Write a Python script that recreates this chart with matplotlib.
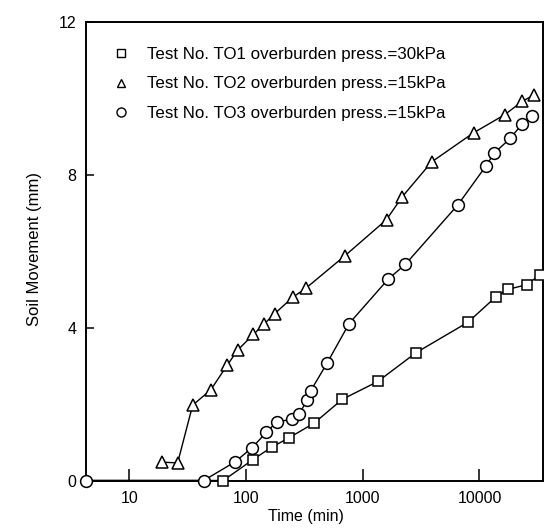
import matplotlib
matplotlib.use("Agg")
import matplotlib.pyplot as plt
from matplotlib.lines import Line2D
from matplotlib.ticker import FixedLocator, FixedFormatter, NullLocator

plt.rcParams['font.family'] = ['Liberation Sans', 'DejaVu Sans']

# ---- data ----
to1_time = [4.27, 64, 114, 166, 235, 384, 667, 1350, 2860, 8000, 13800, 17650, 25500, 32700]
to1_move = [0, 0, 0.54, 0.87, 1.12, 1.50, 2.12, 2.59, 3.34, 4.14, 4.80, 5.00, 5.12, 5.37]

to2_time = [19, 26, 35, 50, 69, 85, 116, 143, 176, 252, 330, 707, 1600, 2170, 3900, 8900, 16400, 23200, 29200]
to2_move = [0.48, 0.46, 1.97, 2.37, 3.01, 3.41, 3.82, 4.09, 4.36, 4.79, 5.04, 5.88, 6.82, 7.41, 8.33, 9.09, 9.56, 9.91, 10.08]

to3_time = [4.27, 43.5, 81, 113, 150, 183, 246, 286, 334, 358, 498, 764, 1660, 2320, 6550, 11350, 13280, 18450, 23000, 28400]
to3_move = [0, 0, 0.49, 0.86, 1.26, 1.53, 1.60, 1.74, 2.10, 2.34, 3.08, 4.10, 5.27, 5.65, 7.21, 8.22, 8.55, 8.95, 9.31, 9.52]

labels = ["Test No. TO1 overburden press.=30kPa",
          "Test No. TO2 overburden press.=15kPa",
          "Test No. TO3 overburden press.=15kPa"]

x_ticks = [10, 100, 1000, 10000]
x_ticklabels = ["10", "100", "1000", "10000"]
y_ticks = [0, 4, 8, 12]

# ---- figure ----
fig = plt.figure(figsize=(5.44, 5.31), dpi=100)
ax = fig.add_axes([0.1581, 0.0951, 0.8392, 0.8644])

line_kw = dict(color='black', lw=1.0, mfc='white', mec='black', mew=1.1, clip_on=False)
ax.plot(to1_time, to1_move, marker='s', ms=7.5, markevery=slice(1, None), zorder=3, **line_kw)
ax.plot(to2_time, to2_move, marker='^', ms=8, zorder=3, **line_kw)
ax.plot(to3_time, to3_move, marker='o', ms=8.5, zorder=4, **line_kw)

ax.set_xscale('log')
ax.set_xlim(4.27, 34700)
ax.set_ylim(0, 12)

ax.xaxis.set_major_locator(FixedLocator(x_ticks))
ax.xaxis.set_major_formatter(FixedFormatter(x_ticklabels))
ax.xaxis.set_minor_locator(NullLocator())
ax.yaxis.set_major_locator(FixedLocator(y_ticks))

ax.tick_params(axis='x', direction='in', length=9, width=1.1, pad=7.5, labelsize=11.5)
ax.tick_params(axis='y', direction='in', length=6, width=1.1, pad=7, labelsize=11.5)

for s in ax.spines.values():
    s.set_linewidth(1.4)

ax.set_xlabel("Time (min)", fontsize=11.5)
ax.set_ylabel("Soil Movement (mm)", fontsize=12)
ax.xaxis.set_label_coords(0.482, -0.062)
ax.yaxis.set_label_coords(-0.097, 0.505)

handles = [Line2D([], [], ls='none', marker='s', ms=6, mfc='white', mec='black', mew=1.0),
           Line2D([], [], ls='none', marker='^', ms=6, mfc='white', mec='black', mew=1.0),
           Line2D([], [], ls='none', marker='o', ms=6.5, mfc='white', mec='black', mew=1.0)]
ax.legend(handles, labels, loc='upper left', bbox_to_anchor=(0.0386, 0.9455),
          frameon=False, borderpad=0, borderaxespad=0, handletextpad=0.55,
          labelspacing=0.88, fontsize=12.2)

fig.savefig("out.png", dpi=100)
